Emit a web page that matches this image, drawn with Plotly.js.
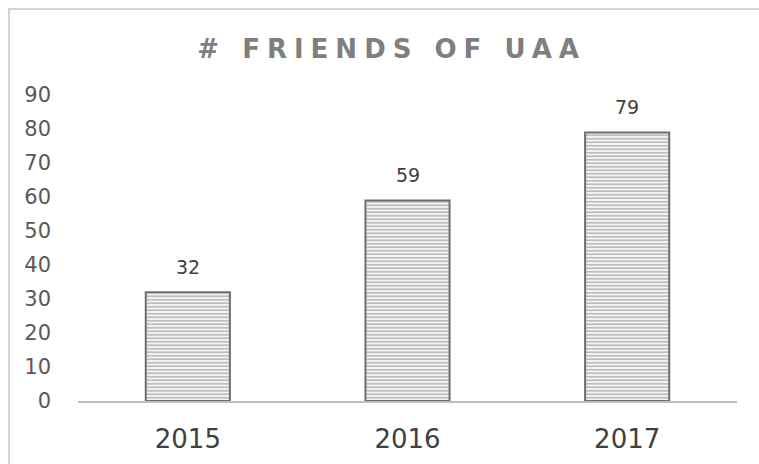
<!DOCTYPE html>
<html>
<head>
<meta charset="utf-8">
<script src="https://cdn.plot.ly/plotly-3.0.1.min.js"></script>
<style>
  html, body { margin: 0; padding: 0; background: #fff; }
  #wrap { position: relative; width: 759px; height: 464px; }
  #chart { width: 759px; height: 464px; }
  #frame { position: absolute; left: 8px; top: 8px; width: 760px; height: 470px;
           border-left: 2px solid #d4d4d4; border-top: 2px solid #d4d4d4; pointer-events: none; }
  .gtitle { letter-spacing: 7px; }
</style>
</head>
<body>
<div id="wrap">
  <div id="chart"></div>
  <div id="frame"></div>
</div>
<script>
const categories = ["2015", "2016", "2017"];
const friends = [32, 59, 79];
const yTicks = [0, 10, 20, 30, 40, 50, 60, 70, 80, 90];
const chartTitle = "# FRIENDS OF UAA";

const bar = {
  type: "bar",
  x: categories,
  y: friends,
  marker: {
    color: "#f2f2f2",
    pattern: { shape: "-", size: 3.5, solidity: 0.4, fgcolor: "#b0b0b0", bgcolor: "#f4f4f4" },
    line: { color: "#6e6e6e", width: 2 }
  },
  hoverinfo: "x+y"
};

const annotations = categories.map((c, i) => ({
  x: i, y: friends[i], text: String(friends[i]),
  xref: "x", yref: "y", showarrow: false,
  yanchor: "bottom", yshift: 12,
  font: { family: "DejaVu Sans, Verdana, sans-serif", size: 19, color: "#404040" }
}));

const layout = {
  width: 759, height: 464,
  margin: { l: 78, r: 22, t: 95, b: 63 },
  paper_bgcolor: "#fff", plot_bgcolor: "#fff",
  showlegend: false,
  bargap: 0.617,
  title: {
    text: chartTitle,
    x: 0.516, xanchor: "center", y: 0.895, yanchor: "middle",
    font: { family: "DejaVu Sans, Verdana, sans-serif", size: 26, color: "#7f7f7f", weight: "bold" }
  },
  xaxis: {
    type: "category",
    range: [-0.5, categories.length - 0.5],
    showgrid: false, zeroline: false,
    showline: true, linecolor: "#bfbfbf", linewidth: 2,
    ticks: "", ticklabelstandoff: 14,
    tickfont: { family: "DejaVu Sans, Verdana, sans-serif", size: 26, color: "#404040" }
  },
  yaxis: {
    range: [0, 90], tickvals: yTicks,
    showgrid: false, zeroline: false, showline: false,
    ticks: "", ticklabelstandoff: 26,
    tickfont: { family: "DejaVu Sans, Verdana, sans-serif", size: 21, color: "#595959" }
  },
  annotations: annotations
};

Plotly.newPlot("chart", [bar], layout, { displayModeBar: false, staticPlot: true });
</script>
</body>
</html>
